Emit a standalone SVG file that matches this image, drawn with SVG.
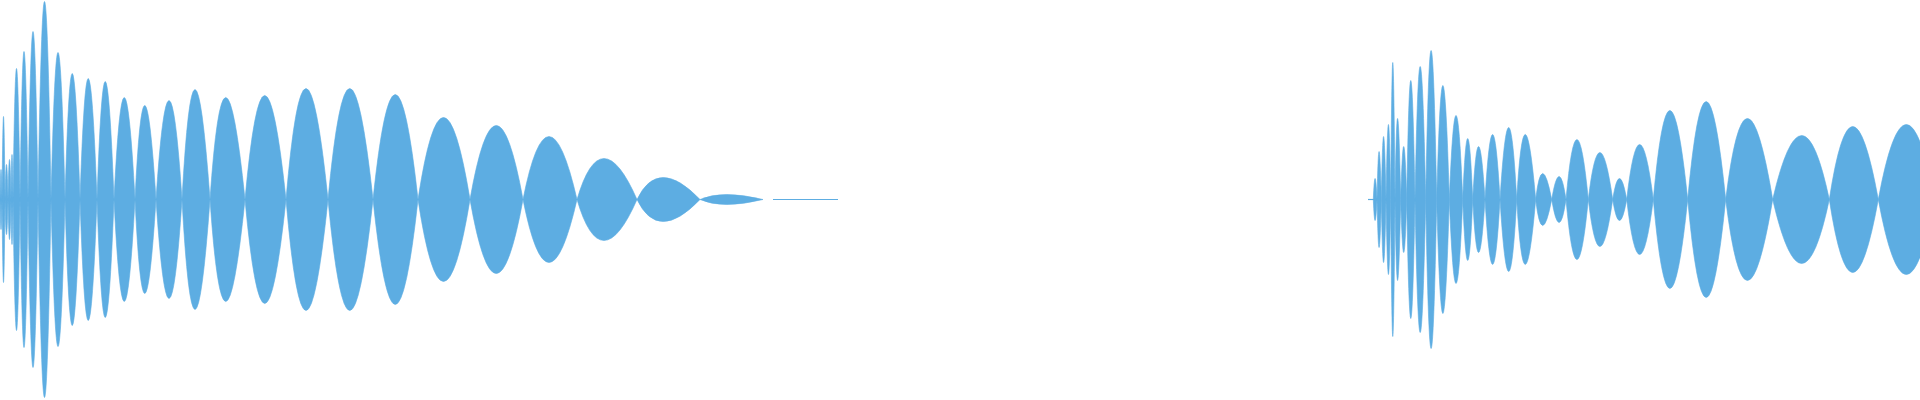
<svg xmlns="http://www.w3.org/2000/svg" width="1920" height="400" viewBox="0 0 1920 400">
<style>path{fill:#5dade2;stroke:#5dade2;stroke-width:0.6}line{stroke:#5dade2;stroke-width:1.2}</style>
<rect width="1920" height="400" fill="#fff"/>
<g id="wave-left" transform="translate(0,199.5)">
<path d="M0 0Q1 -60 2 0Q1 60 0 0Z"/>
<path d="M2 0Q3.5 -166 5 0Q3.5 166 2 0Z"/>
<path d="M5 0Q6.5 -70 8 0Q6.5 70 5 0Z"/>
<path d="M8 0Q9.5 -80 11 0Q9.5 80 8 0Z"/>
<path d="M11 0Q12 -90 13 0Q12 90 11 0Z"/>
<path d="M13 0Q16.5 -262 20 0Q16.5 262 13 0Z"/>
<path d="M20 0Q24 -296 28 0Q24 296 20 0Z"/>
<path d="M28 0Q33 -336 38 0Q33 336 28 0Z"/>
<path d="M38 0Q44.5 -396 51 0Q44.5 396 38 0Z"/>
<path d="M51 0Q58 -294 65 0Q58 294 51 0Z"/>
<path d="M65 0Q72 -252 80 0Q72 252 65 0Z"/>
<path d="M80 0Q88 -242 97 0Q88 242 80 0Z"/>
<path d="M97 0Q105 -236 114 0Q105 236 97 0Z"/>
<path d="M114 0Q124 -204 135 0Q124 204 114 0Z"/>
<path d="M135 0Q144 -188 156 0Q144 188 135 0Z"/>
<path d="M156 0Q169 -198 182 0Q169 198 156 0Z"/>
<path d="M182 0Q194 -220 210 0Q194 220 182 0Z"/>
<path d="M210 0Q224 -204 245 0Q224 204 210 0Z"/>
<path d="M245 0Q264 -208 286 0Q264 208 245 0Z"/>
<path d="M286 0Q305 -222 328 0Q305 222 286 0Z"/>
<path d="M328 0Q349 -222 373 0Q349 222 328 0Z"/>
<path d="M373 0Q395 -210 418 0Q395 210 373 0Z"/>
<path d="M418 0Q443 -164 470 0Q443 164 418 0Z"/>
<path d="M470 0Q496 -148 523 0Q496 148 470 0Z"/>
<path d="M523 0Q548 -126 577 0Q548 126 523 0Z"/>
<path d="M577 0Q601 -82 637 0Q601 82 577 0Z"/>
<path d="M637 0Q658 -44 700 0Q658 44 637 0Z"/>
<path d="M700 0Q722 -10 763 0Q722 10 700 0Z"/>
<line x1="773" y1="0" x2="838" y2="0"/>
</g>
<g id="wave-right" transform="translate(0,199.5)">
<line x1="1368" y1="0" x2="1374" y2="0"/>
<path d="M1373.3 0Q1375 -42 1377 0Q1375 42 1373.3 0Z"/>
<path d="M1377 0Q1379 -96 1381.3 0Q1379 96 1377 0Z"/>
<path d="M1381.3 0Q1383.5 -126 1386 0Q1383.5 126 1381.3 0Z"/>
<path d="M1386 0Q1388.5 -150 1390.7 0Q1388.5 150 1386 0Z"/>
<path d="M1390.7 0Q1392.7 -274 1395 0Q1392.7 274 1390.7 0Z"/>
<path d="M1395 0Q1397.3 -162 1400.7 0Q1397.3 162 1395 0Z"/>
<path d="M1400.7 0Q1403.7 -106 1406.7 0Q1403.7 106 1400.7 0Z"/>
<path d="M1406.7 0Q1410.7 -238 1415 0Q1410.7 238 1406.7 0Z"/>
<path d="M1415 0Q1420 -266 1425.7 0Q1420 266 1415 0Z"/>
<path d="M1425.7 0Q1431 -298 1436.7 0Q1431 298 1425.7 0Z"/>
<path d="M1436.7 0Q1442.7 -228 1449.3 0Q1442.7 228 1436.7 0Z"/>
<path d="M1449.3 0Q1456 -168 1462.7 0Q1456 168 1449.3 0Z"/>
<path d="M1462.7 0Q1467.7 -122 1472.7 0Q1467.7 122 1462.7 0Z"/>
<path d="M1472.7 0Q1478.3 -106 1485 0Q1478.3 106 1472.7 0Z"/>
<path d="M1485 0Q1492.7 -130 1500 0Q1492.7 130 1485 0Z"/>
<path d="M1500 0Q1509 -144 1516.7 0Q1509 144 1500 0Z"/>
<path d="M1516.7 0Q1524.3 -130 1535.7 0Q1524.3 130 1516.7 0Z"/>
<path d="M1535.7 0Q1541.7 -52 1551.7 0Q1541.7 52 1535.7 0Z"/>
<path d="M1551.7 0Q1559.3 -46 1566 0Q1559.3 46 1551.7 0Z"/>
<path d="M1566 0Q1576.7 -120 1588.3 0Q1576.7 120 1566 0Z"/>
<path d="M1588.3 0Q1599.3 -94 1612.7 0Q1599.3 94 1588.3 0Z"/>
<path d="M1612.7 0Q1619.3 -42 1626.7 0Q1619.3 42 1612.7 0Z"/>
<path d="M1626.7 0Q1639.3 -110 1653.3 0Q1639.3 110 1626.7 0Z"/>
<path d="M1653.3 0Q1669.3 -178 1687.7 0Q1669.3 178 1653.3 0Z"/>
<path d="M1687.7 0Q1705.7 -196 1725.7 0Q1705.7 196 1687.7 0Z"/>
<path d="M1725.7 0Q1745.7 -162 1772.7 0Q1745.7 162 1725.7 0Z"/>
<path d="M1772.7 0Q1802.3 -128 1829.3 0Q1802.3 128 1772.7 0Z"/>
<path d="M1829.3 0Q1851.7 -146 1878.3 0Q1851.7 146 1829.3 0Z"/>
<path d="M1878.3 0Q1906 -150 1935 0Q1906 150 1878.3 0Z"/>
</g>
</svg>
